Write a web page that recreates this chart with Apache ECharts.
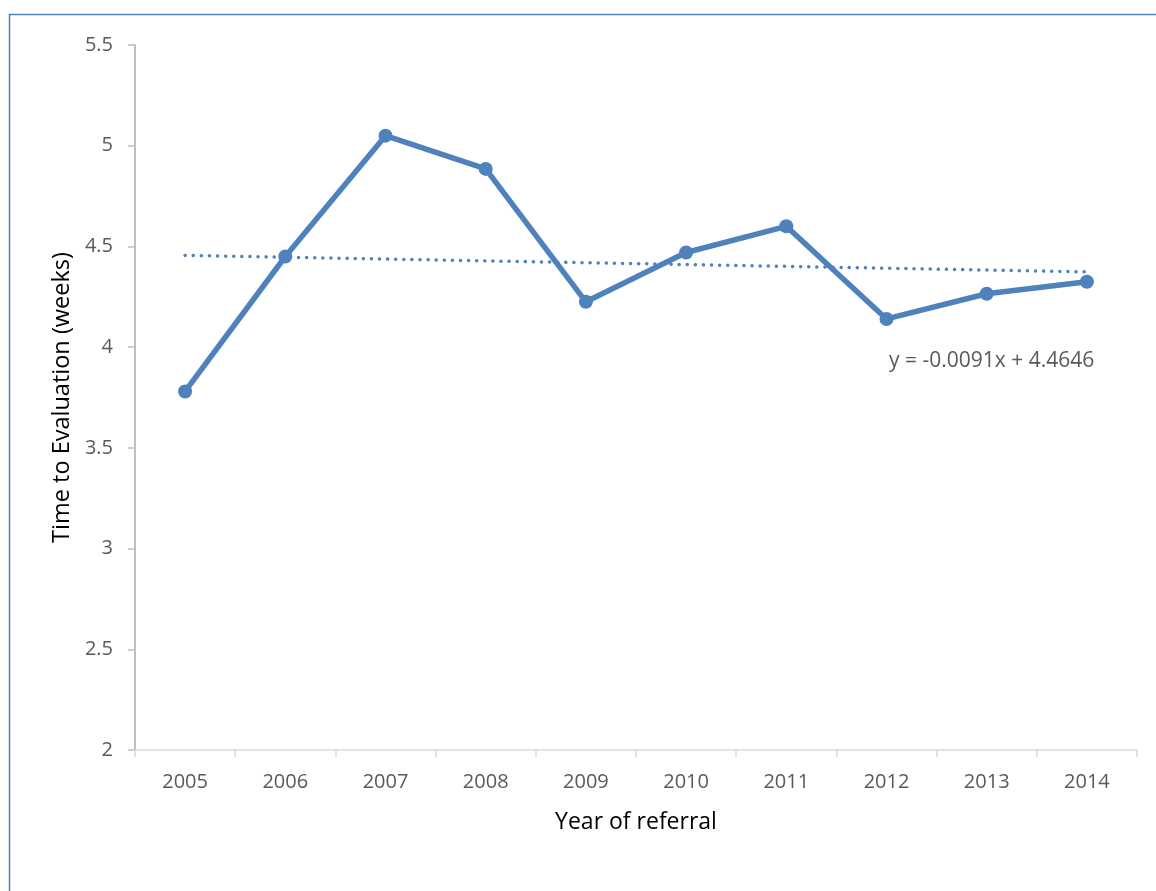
<!DOCTYPE html>
<html>
<head>
<meta charset="utf-8">
<script src="https://cdn.jsdelivr.net/npm/echarts@6/dist/echarts.min.js"></script>
<style>
html,body{margin:0;padding:0;background:#fff;}
#chart{width:1156px;height:891px;}
</style>
</head>
<body>
<div id="chart"></div>
<script>
const years = ['2005','2006','2007','2008','2009','2010','2011','2012','2013','2014'];
const timeToEvaluation = [3.78, 4.45, 5.05, 4.885, 4.225, 4.47, 4.6, 4.14, 4.265, 4.325];
// linear trendline endpoints (y = -0.0091x + 4.4646), middle points connected
const trendline = [4.4555, null, null, null, null, null, null, null, null, 4.3736];
const trendLabel = 'y = -0.0091x + 4.4646';
const yTitle = 'Time to Evaluation (weeks)';
const xTitle = 'Year of referral';

const FONT = 'Open Sans';
const chart = echarts.init(document.getElementById('chart'), null, {renderer: 'canvas'});
const option = {
  animation: false,
  backgroundColor: '#ffffff',
  grid: {left: 135, right: 19, top: 45, bottom: 141, containLabel: false},
  xAxis: {
    type: 'category',
    data: years,
    boundaryGap: true,
    name: xTitle,
    nameLocation: 'middle',
    nameGap: 61,
    nameTextStyle: {fontFamily: FONT, fontSize: 23, color: '#000'},
    axisLine: {lineStyle: {color: '#d9d9d9', width: 1.5}},
    axisTick: {show: true, alignWithLabel: false, length: 7, lineStyle: {color: '#d9d9d9', width: 1.5}},
    axisLabel: {fontFamily: FONT, fontSize: 20, color: '#595959', margin: 22},
    splitLine: {show: false}
  },
  yAxis: {
    type: 'value',
    min: 2,
    max: 5.5,
    interval: 0.5,
    name: yTitle,
    nameLocation: 'middle',
    nameGap: 60,
    nameRotate: 90,
    nameTextStyle: {fontFamily: FONT, fontSize: 23.5, color: '#000'},
    axisLine: {show: true, lineStyle: {color: '#bfbfbf', width: 2}},
    axisTick: {show: true, length: 7, lineStyle: {color: '#bfbfbf', width: 1.5}},
    axisLabel: {fontFamily: FONT, fontSize: 20, color: '#595959', margin: 22},
    splitLine: {show: false}
  },
  series: [
    {
      type: 'line',
      data: timeToEvaluation,
      symbol: 'circle',
      symbolSize: 14,
      lineStyle: {color: '#4f81bd', width: 5.5},
      itemStyle: {color: '#4f81bd'},
      z: 3
    },
    {
      type: 'line',
      data: trendline,
      connectNulls: true,
      symbol: 'none',
      lineStyle: {color: '#4f81bd', width: 3.5, type: [0.1, 8], cap: 'round'},
      z: 2
    }
  ],
  graphic: [
    {
      type: 'rect',
      left: 7, top: 12,
      shape: {width: 1300, height: 1000},
      style: {fill: 'none', stroke: '#4f81bd', lineWidth: 1.5},
      silent: true
    },
    {
      type: 'text',
      left: 889, top: 351,
      style: {text: trendLabel, font: '21px "Open Sans"', fill: '#595959'}
    }
  ]
};
chart.setOption(option);
</script>
</body>
</html>
